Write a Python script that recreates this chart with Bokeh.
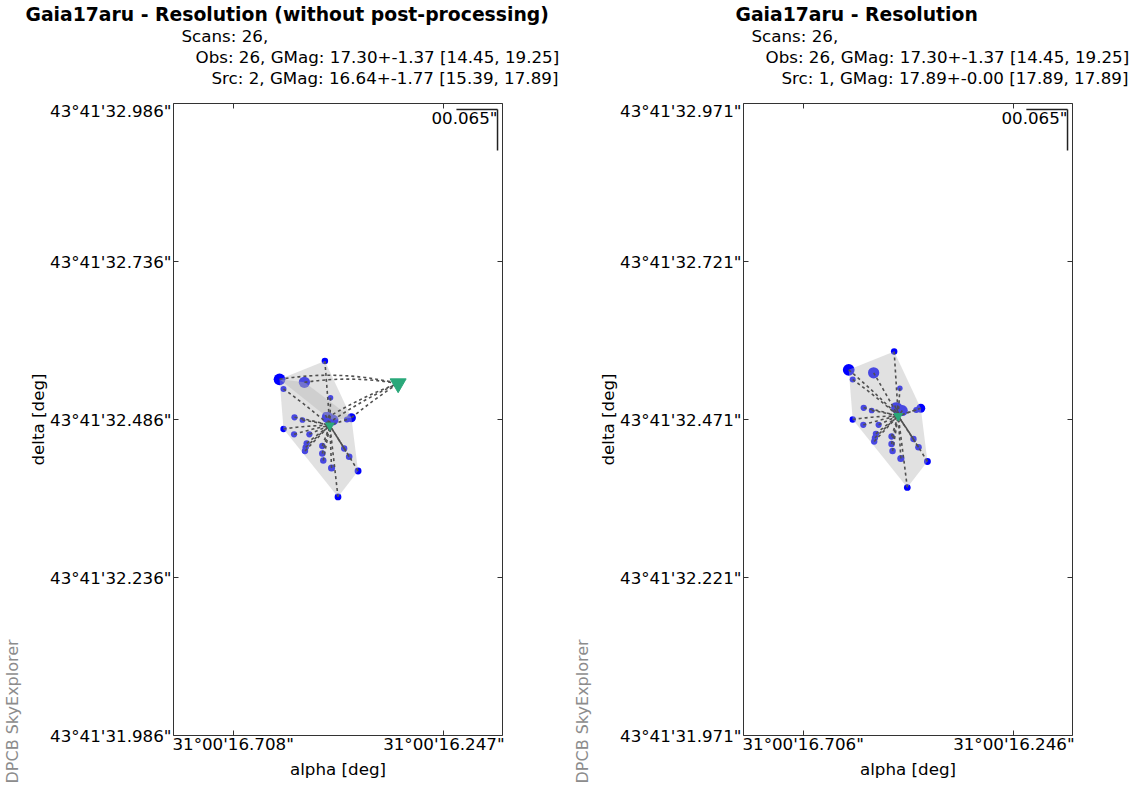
from math import cos, radians
from bokeh.plotting import figure
from bokeh.models import Range1d, FixedTicker, LinearAxis, Label, Title, CustomJSTickFormatter
from bokeh.layouts import row, column
from bokeh.core.properties import value
from bokeh.embed import file_html
from bokeh.resources import INLINE

# ---------------- data (arc-seconds of alpha / delta) ----------------
obs_alpha = [16.6065, 16.5978, 16.5521, 16.5073, 16.4949, 16.5014, 16.4895, 16.4492,
             16.4590, 16.5738, 16.5564, 16.5978, 16.5747, 16.5412, 16.5471, 16.5493,
             16.5508, 16.5130, 16.5130, 16.5108, 16.4927, 16.4651, 16.4542, 16.4347,
             16.4786, 16.5058]
obs_delta = [32.5496, 32.5343, 32.5449, 32.5786, 32.5205, 32.4892, 32.4852, 32.4888,
             32.4860, 32.4895, 32.4852, 32.4710, 32.4626, 32.4626, 32.4483, 32.4420,
             32.4362, 32.4441, 32.4322, 32.4211, 32.4093, 32.4401, 32.4271, 32.4045,
             32.3634, 32.4931]
obs_gmag = [14.45, 18.9, 14.8, 18.5, 19.25, 14.6, 15.1, 16.6,
            18.8, 18.7, 19.1, 18.6, 18.7, 18.7, 18.6, 18.6,
            18.6, 18.6, 18.5, 18.5, 18.0, 18.6, 18.4, 18.2,
            18.3, 18.9]
# source index each observation is linked to
obs_src_left = [1, 0, 1, 0, 0, 1, 1, 1, 0, 0, 0, 0, 0, 0, 0, 0, 0, 0, 0, 0, 0, 0, 0, 0, 0, 0]
obs_src_right = [0] * 26

src_alpha_left = [16.4964, 16.3470]
src_delta_left = [32.4765, 32.5430]
src_gmag_left = [17.89, 15.39]
src_alpha_right = [16.4984]
src_delta_right = [32.4765]
src_gmag_right = [17.89]

left_xticks = [16.708, 16.247]
left_yticks = [32.986, 32.736, 32.486, 32.236, 31.986]
right_xticks = [16.706, 16.246]
right_yticks = [32.971, 32.721, 32.471, 32.221, 31.971]
left_xrange = (16.8385, 16.1187)
left_yrange = (31.986, 32.986)
right_xrange = (16.8362, 16.1180)
right_yrange = (31.971, 32.971)

alpha_prefix = "31\u00b000'"
delta_prefix = "43\u00b041'"
dec_deg = 43.69
scale_arcsec = 0.065
scale_text = "00.065\""

left_title = "Gaia17aru - Resolution (without post-processing)"
right_title = "Gaia17aru - Resolution"
left_lines = ["Scans: 26,",
              "Obs: 26, GMag: 17.30+-1.37 [14.45, 19.25]",
              "Src: 2, GMag: 16.64+-1.77 [15.39, 17.89]"]
right_lines = ["Scans: 26,",
               "Obs: 26, GMag: 17.30+-1.37 [14.45, 19.25]",
               "Src: 1, GMag: 17.89+-0.00 [17.89, 17.89]"]
credit = "DPCB SkyExplorer"
x_label = "alpha [deg]"
y_label = "delta [deg]"

# ---------------- layout / style ----------------
FONT = "DejaVu Sans"
H = 786            # total height
TH = 100           # title strip height
CW = 25            # credit strip width
FRAME_W, FRAME_H = 331, 632
FRAME_L = 171      # frame left inside a panel
FRAME_T = 103      # frame top inside a panel
FS = "16.7px"
LINK_COLOR = "#505050"


def obs_size(g):
    return 5.5 + (19.25 - g) * 1.3


def src_size(g):
    return 8.5 + (17.89 - g) * 3.0


def convex_hull(xs, ys):
    pts = sorted(set(zip(xs, ys)))
    if len(pts) < 3:
        return [p[0] for p in pts], [p[1] for p in pts]

    def cross(o, a, b):
        return (a[0] - o[0]) * (b[1] - o[1]) - (a[1] - o[1]) * (b[0] - o[0])
    lower, upper = [], []
    for q in pts:
        while len(lower) >= 2 and cross(lower[-2], lower[-1], q) <= 0:
            lower.pop()
        lower.append(q)
    for q in reversed(pts):
        while len(upper) >= 2 and cross(upper[-2], upper[-1], q) <= 0:
            upper.pop()
        upper.append(q)
    h = lower[:-1] + upper[:-1]
    return [q[0] for q in h], [q[1] for q in h]


def blank_fig(w, h):
    f = figure(width=w, height=h, x_range=Range1d(0, w), y_range=Range1d(0, h),
               x_axis_type=None, y_axis_type=None, output_backend="svg",
               toolbar_location=None, min_border_left=0, min_border_right=0,
               min_border_top=0, min_border_bottom=0, outline_line_color=None,
               background_fill_color="white", border_fill_color="white")
    f.grid.visible = False
    return f


def panel(W, title, title_x, lines, xr, yr, xt, yt, sa, sd, sg, links, hull_sets):
    # ---- title strip (y measured upward from strip bottom) ----
    tf = blank_fig(W, TH)
    tf.text(x=[title_x], y=[TH - 14], text=[title], text_font=value(FONT),
            text_font_size=value("18.8px"), text_font_style="bold",
            text_align="left", text_baseline="alphabetic", text_color="black")
    tf.text(x=[181, 195, 211], y=[TH - 35, TH - 56, TH - 77], text=lines,
            text_font=value(FONT), text_font_size=value(FS),
            text_align="left", text_baseline="alphabetic", text_color="black")

    # ---- credit strip (vertical text at the bottom-left) ----
    CH = H - TH
    cf = blank_fig(CW, CH)
    cf.add_layout(Title(text=credit, align="left", offset=-48, standoff=0,
                        text_font=FONT, text_font_size="16px", text_font_style="normal",
                        text_color="#8c8c8c"), "left")

    # ---- main plot ----
    MW = W - CW
    p = figure(width=MW, height=CH, x_range=Range1d(*xr), y_range=Range1d(*yr),
               output_backend="svg", toolbar_location=None,
               min_border_left=FRAME_L - CW, min_border_right=MW - (FRAME_L - CW) - FRAME_W,
               min_border_top=FRAME_T - TH, min_border_bottom=CH - (FRAME_T - TH) - FRAME_H,
               background_fill_color="white", border_fill_color="white")
    p.grid.visible = False
    p.outline_line_color = "#333333"
    p.outline_line_width = 1

    code = "return prefix + tick.toFixed(3) + '\"';"
    p.xaxis.ticker = FixedTicker(ticks=xt)
    p.yaxis.ticker = FixedTicker(ticks=yt)
    p.xaxis.formatter = CustomJSTickFormatter(args=dict(prefix=alpha_prefix), code=code)
    p.yaxis.formatter = CustomJSTickFormatter(args=dict(prefix=delta_prefix), code=code)
    p.xaxis.axis_label = x_label
    for ax in (p.xaxis, p.yaxis):
        ax.axis_line_color = None
        ax.major_tick_in = 5
        ax.major_tick_out = 0
        ax.minor_tick_line_color = None
        ax.major_tick_line_color = "#333333"
        ax.major_label_text_font = FONT
        ax.major_label_text_font_size = FS
        ax.major_label_text_color = "black"
        ax.axis_label_text_font = FONT
        ax.axis_label_text_font_size = FS
        ax.axis_label_text_font_style = "normal"
        ax.axis_label_text_color = "black"
    p.xaxis.major_label_standoff = -2
    p.xaxis.axis_label_standoff = 2
    p.yaxis.major_label_standoff = 2
    # y label as a side title, just outside the tick labels
    p.add_layout(Title(text=y_label, align="center", standoff=0, text_font=FONT,
                       text_font_size=FS, text_font_style="normal", text_color="black"), "left")
    for loc, tk in (("above", xt), ("right", yt)):
        ax = LinearAxis(ticker=FixedTicker(ticks=tk), axis_line_color=None,
                        major_tick_in=5, major_tick_out=0, minor_tick_line_color=None,
                        major_tick_line_color="#333333", major_label_text_font_size="1px",
                        major_label_text_color=None, major_label_standoff=0)
        p.add_layout(ax, loc)

    # observations
    p.scatter(obs_alpha, obs_delta, size=[obs_size(g) for g in obs_gmag],
              fill_color="#0000ff", line_color=None)
    # convex hulls (on top of the points, translucent)
    for idx in hull_sets:
        hx, hy = convex_hull([obs_alpha[i] for i in idx], [obs_delta[i] for i in idx])
        p.patch(hx, hy, fill_color="#b4b4b4", fill_alpha=0.4, line_color=None)
    # links obs -> source (slightly bowed)
    x1 = [sa[k] for k in links]
    y1 = [sd[k] for k in links]
    cxs = [(a + b) / 2 for a, b in zip(obs_alpha, x1)]
    cys = [(a + b) / 2 + 0.28 * (c - d) ** 2 for a, b, c, d in zip(obs_delta, y1, obs_alpha, x1)]
    p.quadratic(x0=obs_alpha, y0=obs_delta, x1=x1, y1=y1, cx=cxs, cy=cys,
                line_color=LINK_COLOR, line_width=1.6, line_dash="3 3")
    # sources
    p.scatter(sa, sd, marker="inverted_triangle", size=[src_size(g) for g in sg],
              fill_color="#2aa87a", line_color="#2aa87a")

    # scale bar (top-right corner)
    xs, xe = xr
    ys, ye = yr
    cx = xe + (xs - xe) * (5.0 / FRAME_W)
    cy = ye - (ye - ys) * (6.0 / FRAME_H)
    hlen = scale_arcsec / cos(radians(dec_deg))
    p.line([cx + hlen, cx], [cy, cy], line_color="#222222", line_width=1.5)
    p.line([cx, cx], [cy, cy - scale_arcsec], line_color="#222222", line_width=1.5)
    p.add_layout(Label(x=FRAME_W - 7, y=FRAME_H - 4, x_units="screen", y_units="screen",
                       text=scale_text, text_font=FONT, text_font_size=FS,
                       text_align="right", text_baseline="top", text_color="black"))

    return column(tf, row(cf, p))


hull_left = [list(range(26)), [i for i in range(26) if obs_src_left[i] == 1]]
hull_right = [list(range(26))]

W1 = 570
W2 = 564
p1 = panel(W1, left_title, 25, left_lines, left_xrange, left_yrange, left_xticks, left_yticks,
           src_alpha_left, src_delta_left, src_gmag_left, obs_src_left, hull_left)
p2 = panel(W2, right_title, 165, right_lines, right_xrange, right_yrange, right_xticks, right_yticks,
           src_alpha_right, src_delta_right, src_gmag_right, obs_src_right, hull_right)

layout = row(p1, p2)
open("out.html", "w").write(file_html(layout, INLINE))
